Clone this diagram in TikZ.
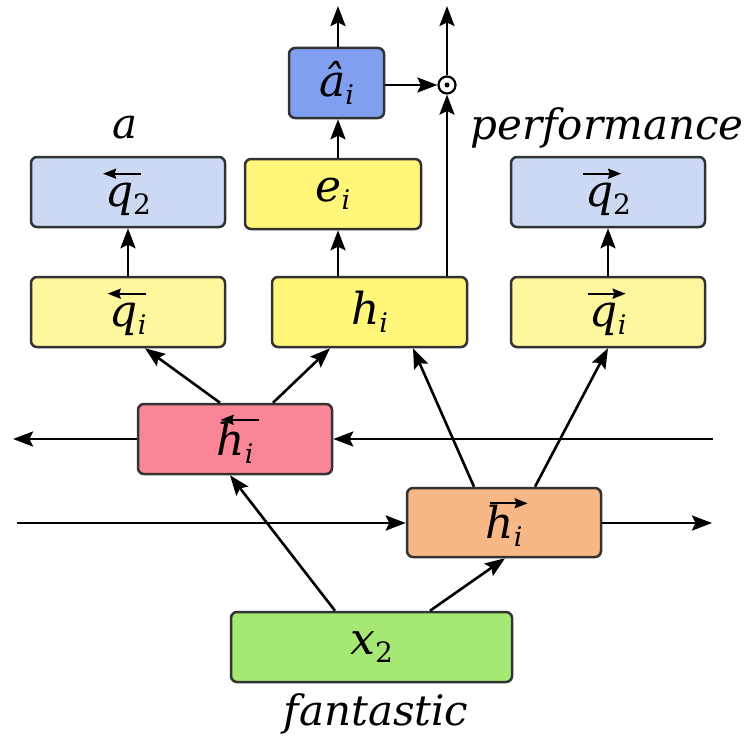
\documentclass[tikz,border=0pt]{standalone}
\usepackage{fontspec}
\setmainfont{DejaVu Serif}
\usetikzlibrary{arrows.meta,calc}

\definecolor{cahat}{HTML}{809FF0}
\definecolor{cyel}{HTML}{FFF67A}
\definecolor{cpale}{HTML}{FFF79E}
\definecolor{cq}{HTML}{CDD8F3}
\definecolor{cred}{HTML}{F98596}
\definecolor{corg}{HTML}{F7B888}
\definecolor{cgrn}{HTML}{A6E874}
\definecolor{cedge}{HTML}{333333}

% symbols drawn inside the boxes
\newcommand{\lbl}[1]{{\fontsize{44}{48}\selectfont\itshape #1}}
\newcommand{\subi}{\raisebox{-8pt}{\fontsize{27}{30}\selectfont\itshape i}}
\newcommand{\subtwo}{\raisebox{-8pt}{\fontsize{28}{30}\selectfont\upshape 2}}
% small arrow set above a letter
\newcommand{\smallarrow}[1]{\tikz[baseline=0pt,x=1pt,y=1pt]
  \draw[line width=2.1pt,#1] (0,0) -- (38,0);}
% #1 arrow tips, #2 shift of the arrow, #3 gap, #4 letter
\newcommand{\arrowed}[4]{\vbox{\offinterlineskip\halign{\hfil##\hfil\cr
  \hbox to 0pt{\hss\kern#2\smallarrow{#1}\hss}\cr\noalign{\kern#3}\lbl{#4}\cr}}}
\newcommand{\vright}[3]{\arrowed{-{Stealth[length=13pt,width=10pt,inset=1.5pt]}}{#2}{#3}{#1}}
\newcommand{\vleft}[3]{\arrowed{{Stealth[length=13pt,width=10pt,inset=1.5pt]}-}{#2}{#3}{#1}}

\tikzset{
  box/.style={draw=cedge, line width=2.5pt, rounded corners=6pt,
    minimum height=70pt, inner sep=0pt},
  arr/.style={line width=2.6pt, -{Stealth[length=20pt,width=15pt,inset=3.5pt]}},
  word/.style={font=\fontsize{42}{48}\selectfont\itshape}
}

\begin{document}
\begin{tikzpicture}[x=1pt,y=-1pt]
\useasboundingbox (0,0) rectangle (751,741);

% boxes
\node[box, fill=cahat, minimum width=95pt] (ahat) at (336.5,83) {\lbl{\^a}\subi};
\node[box, fill=cyel,  minimum width=176pt] (e)   at (333,194) {\lbl{e}\subi};
\node[box, fill=cq,    minimum width=194pt] (q2l) at (128,192) {\vleft{q}{6pt}{4pt}\subtwo};
\node[box, fill=cq,    minimum width=194pt] (q2r) at (608,192) {\vright{q}{6pt}{4pt}\subtwo};
\node[box, fill=cpale, minimum width=194pt] (qil) at (128,312) {\vleft{q}{6pt}{4pt}\subi};
\node[box, fill=cyel,  minimum width=195pt] (hm)  at (369.5,312) {\lbl{h}\subi};
\node[box, fill=cpale, minimum width=194pt] (qir) at (608,312) {\vright{q}{6pt}{4pt}\subi};
\node[box, fill=cred,  minimum width=194pt] (hb)  at (235,439) {\vleft{h}{18pt}{-3pt}\subi};
\node[box, fill=corg,  minimum width=194pt, minimum height=69pt] (hf) at (504,522.5) {\vright{h}{18pt}{-3pt}\subi};
\node[box, fill=cgrn,  minimum width=281pt] (x2)  at (371.5,647) {\lbl{x}\subtwo};

% words
\node[word] (wa)  at (125,128) {a};
\node[word] (wp)  at (607,128) {performance};
\node[word] (wf)  at (376,714) {fantastic};

% product node
\node[circle, draw=black, fill=white, line width=2.2pt, minimum size=17pt, inner sep=0pt] (dot) at (447,85) {};
\fill (dot.center) circle (2.5pt);

% loose ends
\coordinate (topa) at (338,6);
\coordinate (topd) at (447,6);
\coordinate (rin)  at (713,439);
\coordinate (lout) at (13,439);
\coordinate (lin)  at (17,523);
\coordinate (rout) at (712,523);

% vertical flow
\draw[arr] (ahat.north -| topa) -- (topa);
\draw[arr] (e.north -| topa) -- (ahat.south -| topa);
\draw[arr] (hm.north -| topa) -- (e.south -| topa);
\draw[arr] (hm.north -| dot) -- (dot.south);
\draw[arr] (dot.north) -- (topd);
\draw[arr] (ahat.east |- dot) -- (dot.west);
\draw[arr] (qil.north) -- (q2l.south);
\draw[arr] (qir.north) -- (q2r.south);

% backward states
\draw[arr] ($(hb.north)+(-15,0)$) -- ($(qil.south)+(17,0)$);
\draw[arr] ($(hb.north)+(38,0)$) -- ($(hm.south)+(-39.5,0)$);
% forward states
\draw[arr] ($(hf.north)+(-30,0)$) -- ($(hm.south)+(43.5,0)$);
\draw[arr] ($(hf.north)+(31,0)$) -- (qir.south);
% input
\draw[arr] ($(x2.north)+(-36.5,0)$) -- ($(hb.south)+(-5,0)$);
\draw[arr] ($(x2.north)+(58.5,0)$) -- ($(hf.south)+(1,0)$);

% recurrent lines
\draw[arr] (rin) -- (hb.east);
\draw[arr] (hb.west) -- (lout);
\draw[arr] (lin) -- (hf.west |- lin);
\draw[arr] (hf.east |- rout) -- (rout);
\end{tikzpicture}
\end{document}
